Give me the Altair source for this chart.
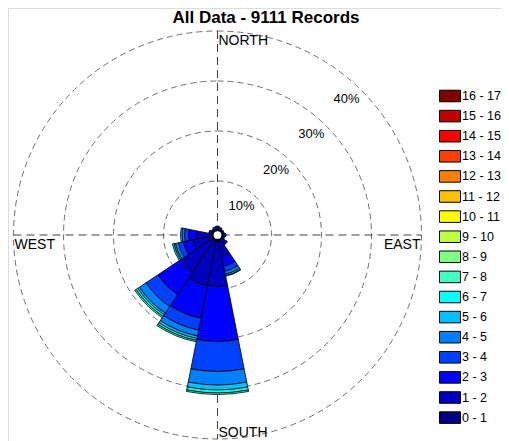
import math
import altair as alt
import pandas as pd

# ---------------- data ----------------
directions = ["N", "NNE", "NE", "ENE", "E", "ESE", "SE", "SSE",
              "S", "SSW", "SW", "WSW", "W", "WNW", "NW", "NNW"]
dir_degrees = [0, 22.5, 45, 67.5, 90, 112.5, 135, 157.5,
               180, 202.5, 225, 247.5, 270, 292.5, 315, 337.5]

speed_bins = ["0 - 1", "1 - 2", "2 - 3", "3 - 4", "4 - 5", "5 - 6", "6 - 7", "7 - 8",
              "8 - 9", "9 - 10", "10 - 11", "11 - 12", "12 - 13", "13 - 14",
              "14 - 15", "15 - 16", "16 - 17"]
bin_colors = ["#000080", "#0000C0", "#0000FF", "#0040FF", "#0080FF", "#00C0FF",
              "#00FFFF", "#40FFC0", "#80FF80", "#C0FF40", "#FFFF00", "#FFC000",
              "#FF8000", "#FF4000", "#FF0000", "#C00000", "#800000"]

# percent of records per speed bin (0-1, 1-2, ...) for each direction
pct_N = [0.5, 0.5]
pct_NNE = [0.4, 0.4]
pct_NE = [0.3, 0.3]
pct_ENE = [0.3, 0.3]
pct_E = [0.4, 0.5]
pct_ESE = [0.3, 0.4]
pct_SE = [0.4, 0.8, 0.4]
pct_SSE = [0.4, 3.2, 2.0, 1.0, 0.6, 0.3, 0.1]
pct_S = [0.6, 8.9, 11.0, 6.0, 2.7, 1.0, 0.6, 0.3]
pct_SSW = [0.5, 9.1, 6.6, 2.4, 1.2, 0.5, 0.4, 0.3]
pct_SW = [0.5, 7.7, 5.4, 2.8, 1.6, 0.4, 0.4, 0.3]
pct_WSW = [0.4, 3.8, 2.0, 1.0, 0.6, 0.3, 0.3]
pct_W = [0.4, 3.0, 1.6, 0.8, 0.5, 0.3]
pct_WNW = [0.4, 0.6]
pct_NW = [0.3, 0.4]
pct_NNW = [0.4, 0.5]

dir_pcts = [pct_N, pct_NNE, pct_NE, pct_ENE, pct_E, pct_ESE, pct_SE, pct_SSE,
            pct_S, pct_SSW, pct_SW, pct_WSW, pct_W, pct_WNW, pct_NW, pct_NNW]

rings = [10, 20, 30, 40]
ring_labels = ["10%", "20%", "30%", "40%"]
compass = ["NORTH", "EAST", "SOUTH", "WEST"]
compass_deg = [0, 90, 180, 270]
title_text = "All Data - 9111 Records"

# ---------------- layout ----------------
W, H = 493, 433
CX, CY = 209.5, 227.0
R_MAX = 40
FONT = "Liberation Sans"
SECTOR = 22.5

theta_scale = alt.Scale(domain=[0, 360], range=[0, 2 * math.pi])
radius_scale = alt.Scale(type="linear", domain=[0, R_MAX], range=[4, 204])
color_scale = alt.Scale(domain=speed_bins[::-1], range=bin_colors[::-1])

# petals table (stacked by speed bin)
rows = []
order = [0, 1, 2, 3, 4, 5, 6, 7, 15, 14, 13, 12, 11, 10, 9, 8]
for i in order:
    cum = 0.0
    for b, v in enumerate(dir_pcts[i]):
        rows.append({"dir": directions[i], "t0": dir_degrees[i] - SECTOR / 2,
                     "t1": dir_degrees[i] + SECTOR / 2, "r0": cum, "r1": cum + v,
                     "speed": speed_bins[b], "pct": v})
        cum += v
petals_df = pd.DataFrame(rows)

rings_df = pd.DataFrame({"ring": rings})
axes_df = pd.DataFrame({"x": [-R_MAX - 0.8, 0], "x2": [R_MAX + 0.8, 0],
                        "y": [0, -R_MAX - 0.8], "y2": [0, R_MAX + 0.8]})
ring_lab_df = pd.DataFrame({"label": ring_labels, "r": [r - 3.3 for r in rings],
                            "t": [40, 42, 43, 43.5]})
comp_df = pd.DataFrame({"label": compass, "t": compass_deg, "r": [R_MAX] * 4})

xs = alt.Scale(domain=[-R_MAX - 0.8, R_MAX + 0.8], range=[CX - 204, CX + 204])
ys = alt.Scale(domain=[-R_MAX - 0.8, R_MAX + 0.8], range=[CY - 204, CY + 204])

ring_layer = alt.Chart(rings_df).mark_arc(
    fillOpacity=0, stroke="#6e6e6e", strokeWidth=1, strokeDash=[6, 4]
).encode(
    x=alt.value(CX), y=alt.value(CY),
    theta=alt.value(0), theta2=alt.value(2 * math.pi),
    radius=alt.Radius("ring:Q", scale=radius_scale, stack=None),
)

axis_layer = alt.Chart(axes_df).mark_rule(
    color="#404040", strokeWidth=1, strokeDash=[8, 5]
).encode(
    x=alt.X("x:Q", scale=xs, axis=None), x2="x2:Q",
    y=alt.Y("y:Q", scale=ys, axis=None), y2="y2:Q",
)

petal_layer = alt.Chart(petals_df).mark_arc(
    stroke="black", strokeWidth=0.8
).encode(
    x=alt.value(CX), y=alt.value(CY),
    theta=alt.Theta("t0:Q", scale=theta_scale, stack=None), theta2="t1:Q",
    radius=alt.Radius("r1:Q", scale=radius_scale, stack=None), radius2="r0:Q",
    color=alt.Color("speed:N", scale=color_scale, legend=alt.Legend(
        title=None, orient="none", legendX=431, legendY=77, padding=0,
        symbolType="M-1,-0.55H1V0.55H-1Z", symbolSize=441,
        symbolStrokeColor="black", symbolStrokeWidth=1, symbolOpacity=1,
        labelFont=FONT, labelFontSize=12.5, labelColor="black", labelOffset=1,
        rowPadding=1.1, labelLimit=80)),
    order=alt.Order("r0:Q"),
    tooltip=["dir:N", "speed:N", "pct:Q"],
)

hole_layer = alt.Chart(pd.DataFrame({"c": [0]})).mark_point(
    shape="circle", size=95, filled=True, fill="white", stroke="black",
    strokeWidth=2, opacity=1
).encode(x=alt.value(CX), y=alt.value(CY))

ring_text = alt.Chart(ring_lab_df).mark_text(
    font=FONT, fontSize=13, color="black", align="center", baseline="middle"
).encode(
    x=alt.value(CX), y=alt.value(CY),
    theta=alt.Theta("t:Q", scale=theta_scale, stack=None),
    radius=alt.Radius("r:Q", scale=radius_scale, stack=None),
    text="label:N",
)

def comp_text(labels, align, baseline, dx, dy):
    return alt.Chart(comp_df[comp_df["label"].isin(labels)]).mark_text(
        font=FONT, fontSize=14, color="black", align=align, baseline=baseline,
        dx=dx, dy=dy
    ).encode(
        x=alt.value(CX), y=alt.value(CY),
        theta=alt.Theta("t:Q", scale=theta_scale, stack=None),
        radius=alt.Radius("r:Q", scale=radius_scale, stack=None),
        text="label:N",
    )

north_west = comp_text(["NORTH", "WEST"], "left", "top", 1, 3)
east = comp_text(["EAST"], "right", "top", -1, 3)
south = comp_text(["SOUTH"], "left", "alphabetic", 1, -2)

title_layer = alt.Chart(pd.DataFrame({"t": [title_text]})).mark_text(
    font=FONT, fontSize=17, fontWeight="bold", color="black",
    align="center", baseline="alphabetic"
).encode(x=alt.value(258), y=alt.value(14.5), text="t:N")

chart = alt.layer(
    ring_layer, axis_layer, petal_layer, hole_layer, ring_text,
    north_west, east, south, title_layer
).properties(
    width=W, height=H, autosize=alt.AutoSizeParams(type="none"), padding=0
).configure_view(stroke=None).configure(font=FONT)

chart.save("out.html", embed_options={"renderer": "svg", "actions": False})
